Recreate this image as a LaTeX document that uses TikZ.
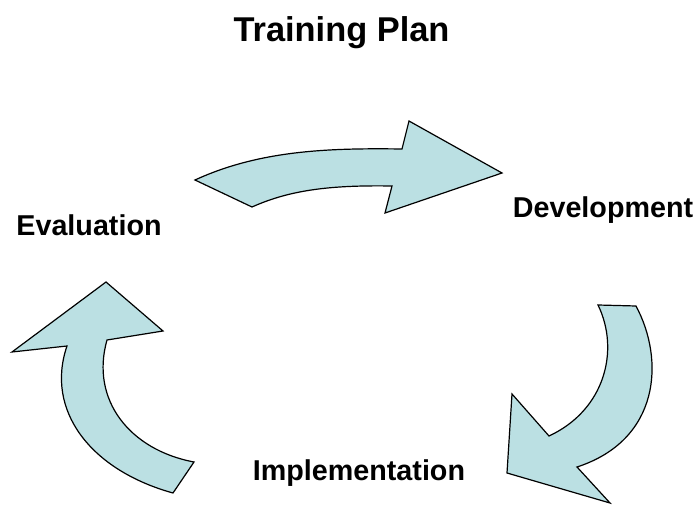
\documentclass[tikz,border=0pt]{standalone}
\usepackage{fontspec}
\setmainfont{Liberation Sans}
\definecolor{arrowfill}{RGB}{187,224,227}
\begin{document}
\begin{tikzpicture}[x=1pt,y=-1pt,
  cyclearrow/.style={draw=black,fill=arrowfill,line width=1.2pt,line join=miter},
  label/.style={anchor=base,inner sep=0pt,font=\fontsize{28.7}{32}\selectfont\bfseries},
  titlelabel/.style={anchor=base,inner sep=0pt,font=\fontsize{34.4}{38}\selectfont\bfseries}]
\useasboundingbox (0,0) rectangle (697,505);
\node[titlelabel] (title) at (341.5,42) {Training Plan};
\node[label] (eval) at (89,236) {Evaluation};
\node[label] (dev) at (603,218) {Development};
\node[label] (impl) at (359,480) {Implementation};
% top arrow: Evaluation -> Development
\draw[cyclearrow] (195,180) .. controls (260,150) and (330,148) .. (402,149)
  -- (409,121) -- (502,173) -- (385,213) -- (392,186)
  .. controls (330,185) and (290,190) .. (252,207) -- cycle;
% right arrow: Development -> Implementation
\draw[cyclearrow] (598,305) -- (636,306)
  .. controls (665,360) and (660,440) .. (577,467)
  -- (610,503) -- (507,473) -- (512,394) -- (549,436)
  .. controls (605,410) and (620,350) .. (598,305) -- cycle;
% left arrow: Implementation -> Evaluation
\draw[cyclearrow] (173,493) .. controls (90,470) and (45,410) .. (67,346)
  -- (12,352) -- (106,282) -- (163,331) -- (107,340)
  .. controls (90,400) and (130,450) .. (194,462) -- cycle;
\end{tikzpicture}
\end{document}
